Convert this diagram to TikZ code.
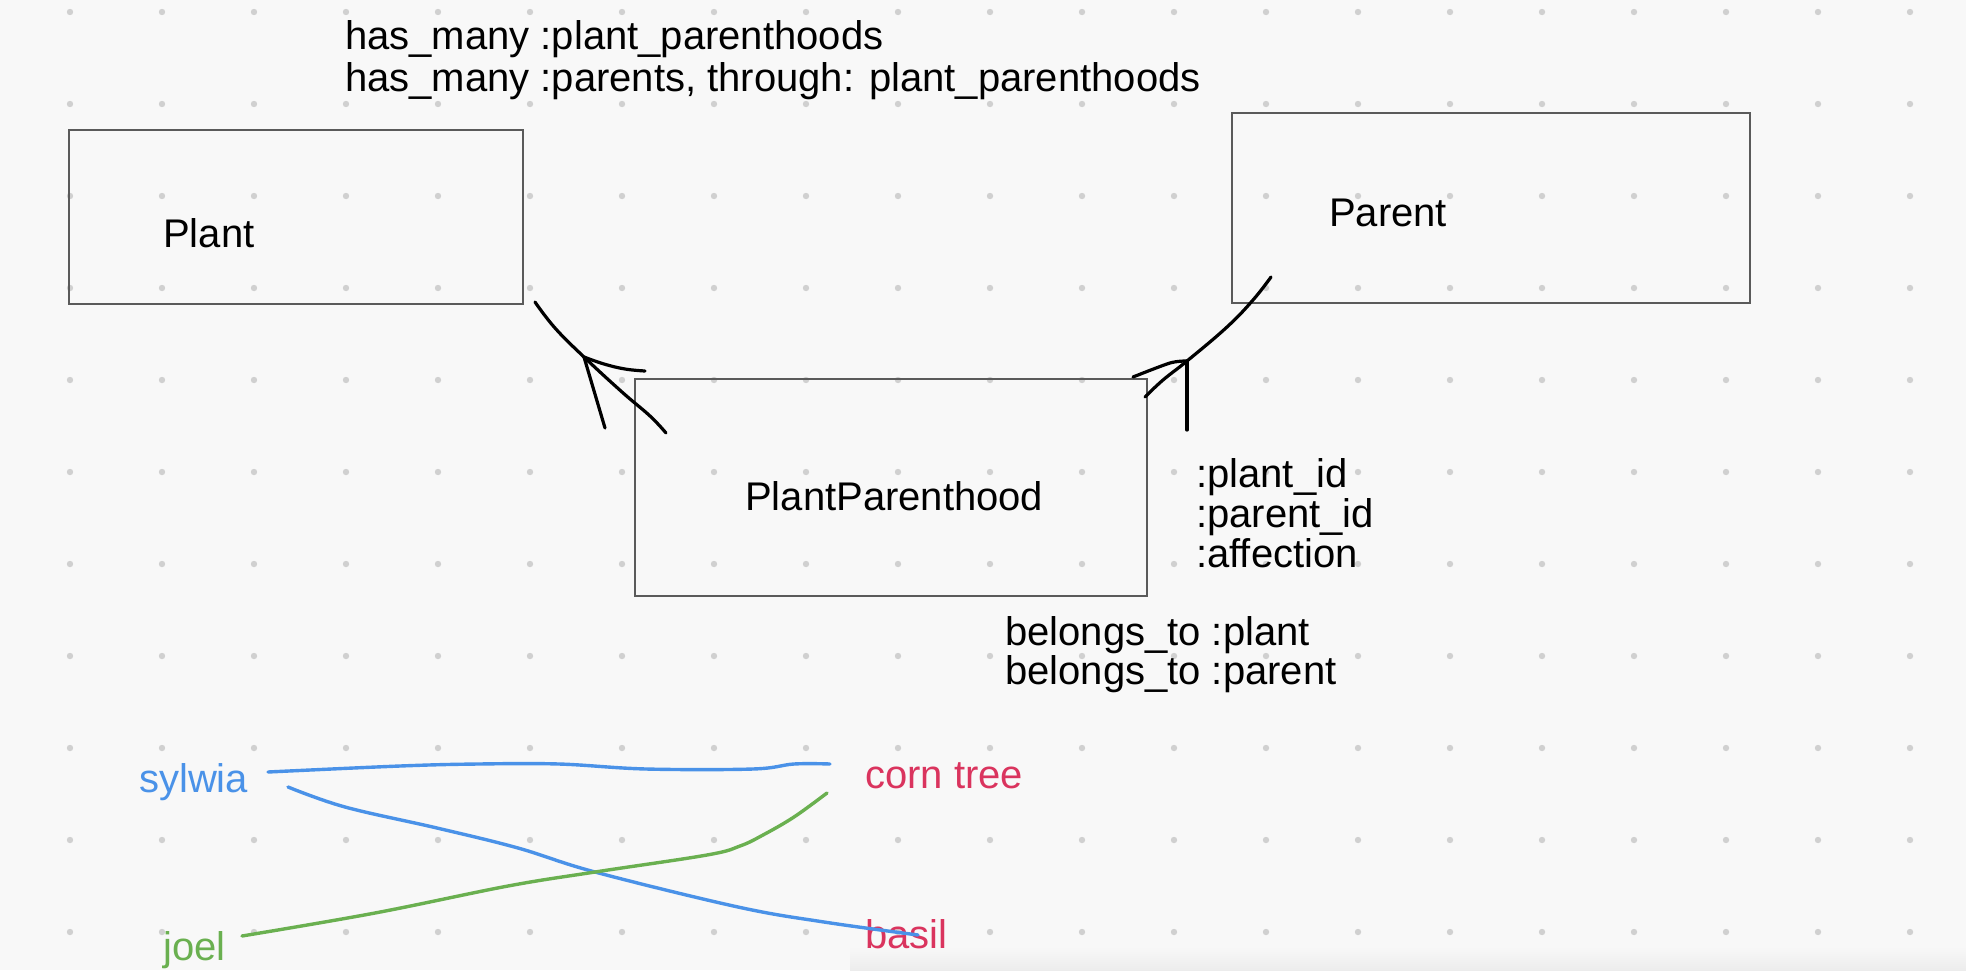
\documentclass[tikz,border=0pt]{standalone}
\usepackage{fontspec}
\setmainfont{Liberation Sans}
\definecolor{bgc}{RGB}{248,248,248}
\definecolor{dotc}{RGB}{208,208,208}
\definecolor{boxc}{RGB}{90,90,90}
\definecolor{bluec}{RGB}{74,146,232}
\definecolor{redc}{RGB}{218,52,94}
\definecolor{greenc}{RGB}{106,176,80}
\definecolor{shadec}{RGB}{236,236,236}
\begin{document}
\begin{tikzpicture}[x=1pt,y=-1pt,
  txt/.style={inner sep=0pt,anchor=base west,font=\fontsize{40}{42}\selectfont},
  ent/.style={draw=boxc,line width=2pt,inner sep=0pt},
  sketch/.style={line width=3.4pt,line cap=round,line join=round},
  pen/.style={sketch,black,line width=3.2pt}]
\useasboundingbox (0,0) rectangle (1966,970);
\fill[bgc] (0,0) rectangle (1966,970);
\shade[top color=bgc,bottom color=shadec] (850,947) rectangle (1966,970);
% dot grid
\foreach \i in {0,...,20}{
  \foreach \j in {0,...,10}{
    \fill[dotc] ({70+92*\i},{12+92*\j}) circle (3.2pt);
  }
}
% entity boxes
\node[ent,minimum width=454pt,minimum height=174pt] (plantbox) at (296,217) {};
\node[ent,minimum width=518pt,minimum height=190pt] (parentbox) at (1491,208) {};
\node[ent,minimum width=512pt,minimum height=217pt] (ppbox) at (891,487.5) {};
% texts
\node[txt] (hm1) at (345,49) {has\_many :plant\_parenthoods};
\node[txt] (hm2) at (345,91) {has\_many :parents, through: plant\_parenthoods};
\node[txt] (plant) at (163,247) {Plant};
\node[txt] (parent) at (1329,226) {Parent};
\node[txt] (pp) at (745,510) {PlantParenthood};
\node[txt] (a1) at (1196,487) {:plant\_id};
\node[txt] (a2) at (1196,527) {:parent\_id};
\node[txt] (a3) at (1196,567) {:affection};
\node[txt] (b1) at (1005,645) {belongs\_to :plant};
\node[txt] (b2) at (1005,684) {belongs\_to :parent};
\node[txt,text=bluec] (sylwia) at (139,792) {sylwia};
\node[txt,text=greenc] (joel) at (163,960) {joel};
\node[txt,text=redc] (corn) at (865,788) {corn tree};
\node[txt,text=redc] (basil) at (865,948) {basil};
% hand-drawn arrow: PlantParenthood -> Plant
\coordinate (lv) at (584,357);
\draw[pen] plot[smooth,tension=0.7] coordinates {(535,302) (555,328) (lv) (622,392) (650,416) (666,433)};
\draw[pen] (lv) -- (605,428);
\draw[pen] plot[smooth,tension=0.7] coordinates {(lv) (604,364) (625,369) (645,371)};
% hand-drawn arrow: PlantParenthood -> Parent
\coordinate (rv) at (1187,361);
\draw[pen] plot[smooth,tension=0.7] coordinates {(1271,277) (1253,300) (1227,327) (rv) (1163,380) (1145,397)};
\draw[pen] (rv) -- (1187,430);
\draw[pen] plot[smooth,tension=0.5] coordinates {(rv) (1170,363) (1133,377)};
% example links
\draw[sketch,bluec] plot[smooth,tension=0.6] coordinates {(268,772) (400,766) (478,764) (559,764) (646,769) (753,769) (794,764) (830,764)};
\draw[sketch,bluec] plot[smooth,tension=0.6] coordinates {(288,787) (345,807) (437,828) (518,848) (595,872) (738,907) (824,922) (918,935)};
\draw[sketch,greenc] plot[smooth,tension=0.6] coordinates {(242,936) (375,913) (508,886) (595,872) (707,855) (740,846) (763,835) (794,817) (827,793)};
\end{tikzpicture}
\end{document}
